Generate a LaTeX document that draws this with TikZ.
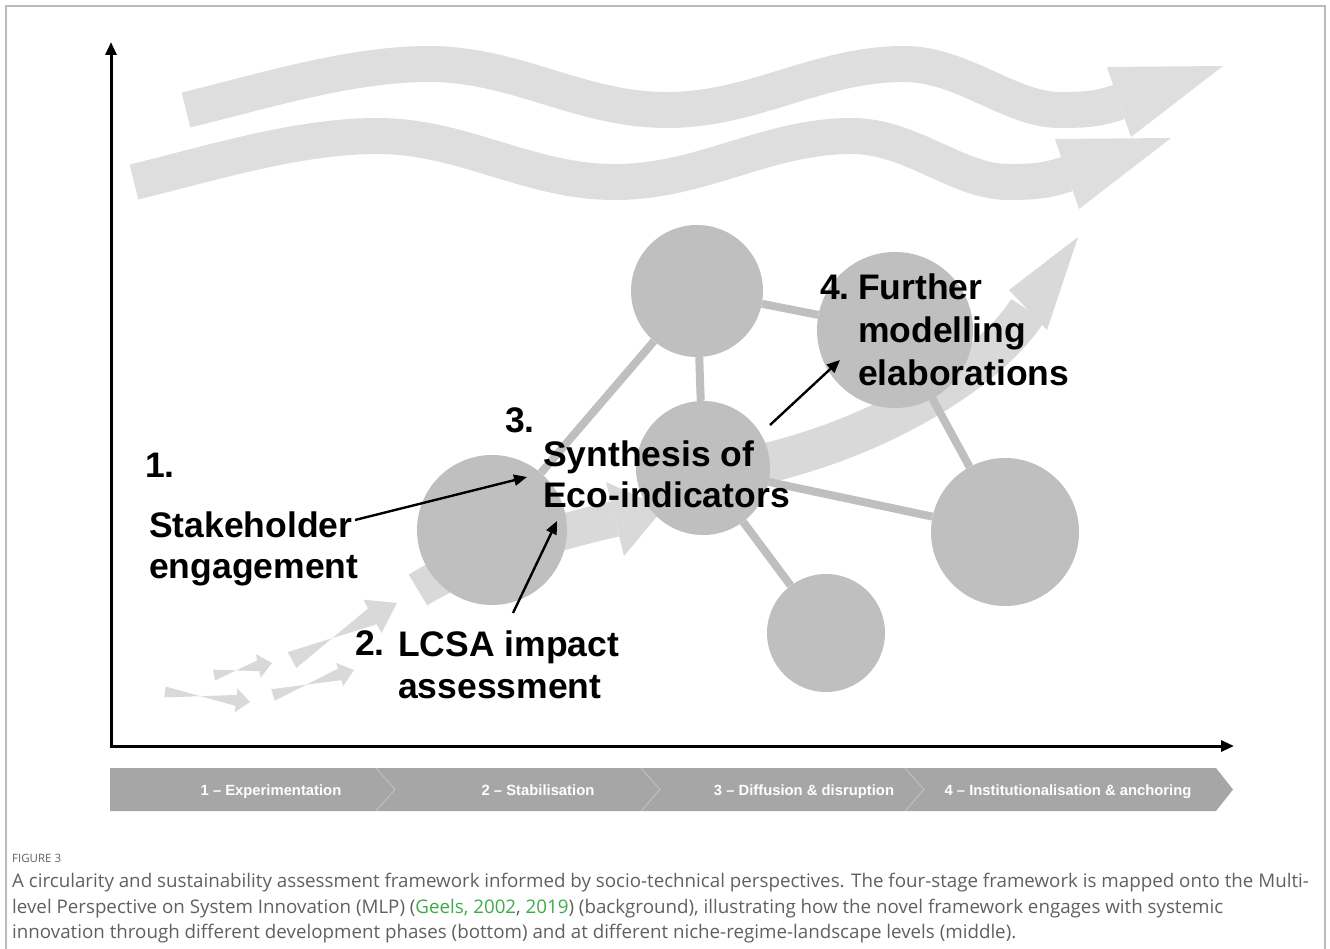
\documentclass[tikz,border=0pt]{standalone}
\usepackage{fontspec}
\setmainfont{Liberation Sans}
\newfontfamily\capfont{Open Sans}
\usetikzlibrary{calc,arrows.meta}
\definecolor{wave}{HTML}{DEDEDE}
\definecolor{flow}{HTML}{D9D9D9}
\definecolor{netc}{HTML}{BFBFBF}
\definecolor{barc}{HTML}{A6A6A6}
\definecolor{sepc}{HTML}{C4C4C4}
\definecolor{capc}{HTML}{606060}
\definecolor{refc}{HTML}{3DAA4A}
\definecolor{framec}{HTML}{BBBBBB}
\pgfdeclarelayer{back}
\pgfdeclarelayer{bg}
\pgfsetlayers{back,bg,main}
\newcommand\fatarrow[5]{% start, end, shaft half width, head half width, head length
  \fill[flow] ($(#1)!#3!90:(#2)$) -- ($($(#2)!#5!(#1)$)!#3!-90:(#2)$)
    -- ($($(#2)!#5!(#1)$)!#4!-90:(#2)$) -- (#2)
    -- ($($(#2)!#5!(#1)$)!#4!90:(#2)$) -- ($($(#2)!#5!(#1)$)!#3!90:(#2)$)
    -- ($(#1)!#3!-90:(#2)$) -- cycle;}
\tikzset{
  bubble/.style={circle, fill=netc, inner sep=0pt, minimum size=#1},
  netline/.style={netc, line width=8pt},
  band/.style={wave, line width=36pt},
  lbl/.style={font=\fontsize{35.5}{42}\selectfont\bfseries, anchor=base west, inner sep=0pt},
  ptr/.style={line width=2.4pt, -{Triangle[length=13pt,width=11pt]}},
  axis/.style={line width=3pt, -{Triangle[length=13pt,width=11pt]}},
  phase/.style={font=\fontsize{14.8}{17}\selectfont\bfseries, text=white, inner sep=0pt, anchor=base},
  captext/.style={font=\capfont\fontsize{18.75}{23}\selectfont, text=capc, anchor=base west, inner sep=0pt},
}
\begin{document}
\begin{tikzpicture}[x=1pt,y=-1pt]
\useasboundingbox (0,0) rectangle (1330,949);
% frame
\draw[framec, line width=1.2pt] (6,952) -- (6,6) -- (1325,6) -- (1325,952);

% landscape waves
\begin{pgfonlayer}{back}
\foreach \dx/\dy in {0/0,-52/72}{
\begin{scope}[shift={(\dx,\dy)}]
\draw[band] (186,110) .. controls (264,91) and (350,64) .. (429,64)
  .. controls (516,64) and (580,110) .. (667,110)
  .. controls (754,110) and (818,64) .. (904,64)
  .. controls (963,64) and (1010,110) .. (1060,110)
  .. controls (1085,110) and (1098,109) .. (1119,102);
\fill[wave] (1107,67) -- (1223,66) -- (1131,137) -- cycle;
\end{scope}}

% niche / regime flow arrows
\coordinate (a1s) at (165,692); \coordinate (a1e) at (250,702);
\coordinate (a2s) at (214,675); \coordinate (a2e) at (272,663);
\coordinate (a3s) at (273,695); \coordinate (a3e) at (354,670);
\coordinate (a4s) at (292,660); \coordinate (a4e) at (397,603);
\fatarrow{a1s}{a1e}{5.5pt}{12pt}{14pt}
\fatarrow{a2s}{a2e}{5.5pt}{12pt}{14pt}
\fatarrow{a3s}{a3e}{6pt}{12pt}{15pt}
\fatarrow{a4s}{a4e}{9pt}{19pt}{28pt}
\draw[flow, line width=36pt] (418,590) .. controls (460,564) and (530,538) .. (615,519);
\fill[flow] (606,482) -- (664,508) -- (624,556) -- cycle;
\draw[flow, line width=40pt] (722,472) .. controls (860,450) and (985,377) .. (1028,310);
\fill[flow] (1009,290) -- (1078,237) -- (1047,330) -- cycle;
\end{pgfonlayer}

% network
\node[bubble=150pt] (c1) at (492,530) {};
\node[bubble=134pt] (c2) at (703,468) {};
\node[bubble=132pt] (c3) at (697,291) {};
\node[bubble=156pt] (c4) at (895,330) {};
\node[bubble=148pt] (c5) at (1005,532) {};
\node[bubble=118pt] (c6) at (826,633) {};
\begin{pgfonlayer}{bg}
\draw[netline] (c1) -- (c3);
\draw[netline] (c3) -- (c2);
\draw[netline] (c3) -- (c4);
\draw[netline] (c4) -- (c5);
\draw[netline] (c2) -- (c5);
\draw[netline] (c2) -- (c6);
\end{pgfonlayer}

% labels
\node[lbl] (n1) at (145,477) {1.};
\node[lbl] (t1a) at (149,537) {Stakeholder};
\node[lbl] (t1b) at (149,578) {engagement};
\node[lbl] (n2) at (355,655) {2.};
\node[lbl] (t2a) at (398,656) {LCSA impact};
\node[lbl] (t2b) at (398,698) {assessment};
\node[lbl] (n3) at (505,432) {3.};
\node[lbl] (t3a) at (543,466) {Synthesis of};
\node[lbl] (t3b) at (543,507) {Eco-indicators};
\node[lbl] (n4) at (820,300) {4.};
\node[lbl] (t4a) at (858,300) {Further};
\node[lbl] (t4b) at (858,343) {modelling};
\node[lbl] (t4c) at (858,385) {elaborations};

% pointer arrows
\coordinate (p1s) at (355,520); \coordinate (p1e) at (527,477);
\coordinate (p2s) at (513,613); \coordinate (p2e) at (557,521);
\coordinate (p3s) at (770,425); \coordinate (p3e) at (840,360);
\draw[ptr] (p1s) -- (p1e);
\draw[ptr] (p2s) -- (p2e);
\draw[ptr] (p3s) -- (p3e);

% axes
\coordinate (origin) at (111,746);
\coordinate (ytop) at (111,42);
\coordinate (xend) at (1234,746);
\draw[axis] ($(origin)+(0,1.5)$) -- (ytop);
\draw[axis] ($(origin)+(-1.5,0)$) -- (xend);

% phase bar
\fill[barc] (110,768) -- (1216,768) -- (1233,789.5) -- (1216,811) -- (110,811) -- cycle;
\foreach \sx in {376,641,905}{
  \draw[sepc, line width=0.8pt] (\sx,768) -- (\sx+19,789.5) -- (\sx,811);}
\node[phase] (ph1) at (271,795) {1 – Experimentation};
\node[phase] (ph2) at (538,795) {2 – Stabilisation};
\node[phase] (ph3) at (804,795) {3 – Diffusion \& disruption};
\node[phase] (ph4) at (1068,795) {4 – Institutionalisation \& anchoring};

% caption
\node[captext, font=\capfont\fontsize{11.5}{14}\selectfont] (fig) at (12,862) {FIGURE 3};
\node[captext] (cl1) at (12,887) {A circularity and sustainability assessment framework informed by socio-technical perspectives. The four-stage framework is mapped onto the Multi-};
\node[captext] (cl2) at (12,913) {level Perspective on System Innovation (MLP) (\textcolor{refc}{Geels, 2002}, \textcolor{refc}{2019}) (background), illustrating how the novel framework engages with systemic};
\node[captext] (cl3) at (12,938) {innovation through different development phases (bottom) and at different niche-regime-landscape levels (middle).};
\end{tikzpicture}
\end{document}
